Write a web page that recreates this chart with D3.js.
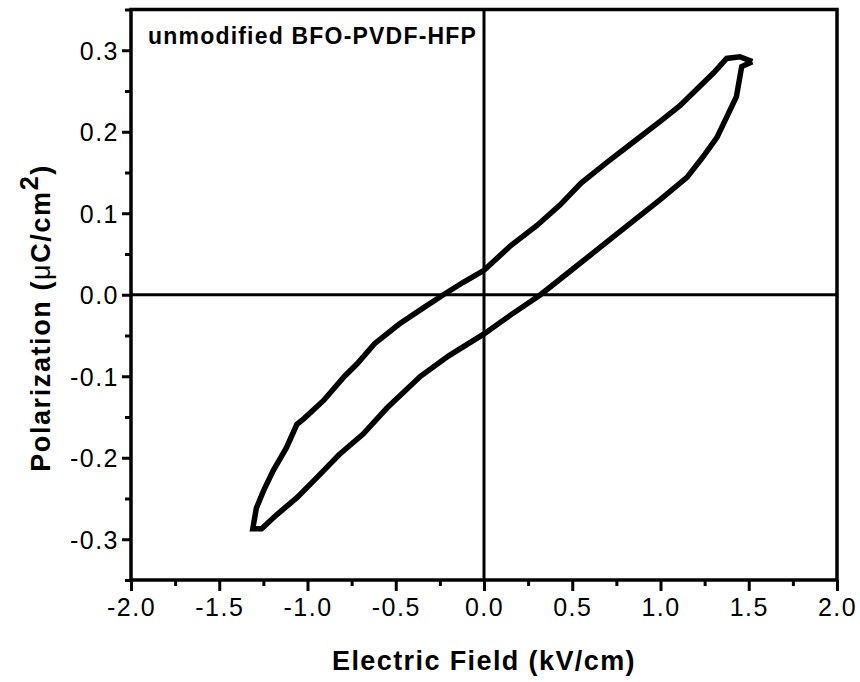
<!DOCTYPE html>
<html>
<head>
<meta charset="utf-8">
<script src="https://cdn.jsdelivr.net/npm/d3@7"></script>
<style>
  body { margin: 0; background: #fff; }
  text { font-family: "Liberation Sans", Arial, sans-serif; fill: #000; }
</style>
</head>
<body>
<div id="chart"></div>
<script>
// P-E loop, descending branch (from +Emax back to -Emax)
const upperE = [1.52, 1.45, 1.375, 1.30, 1.21, 1.11, 1.0, 0.85, 0.70, 0.55, 0.43, 0.30, 0.15, 0.0, -0.12, -0.23, -0.35, -0.48, -0.62, -0.72, -0.79, -0.91, -1.02, -1.06, -1.12, -1.195, -1.25, -1.29, -1.31];
const upperP = [0.286, 0.292, 0.290, 0.272, 0.253, 0.232, 0.213, 0.188, 0.163, 0.137, 0.110, 0.085, 0.060, 0.030, 0.015, 0.0, -0.017, -0.036, -0.060, -0.085, -0.100, -0.130, -0.152, -0.159, -0.188, -0.216, -0.241, -0.262, -0.287];
// ascending branch (from -Emax to +Emax)
const lowerE = [-1.31, -1.26, -1.175, -1.06, -0.95, -0.82, -0.685, -0.55, -0.36, -0.20, 0.0, 0.15, 0.32, 0.50, 0.75, 1.0, 1.15, 1.24, 1.32, 1.375, 1.43, 1.46, 1.52];
const lowerP = [-0.287, -0.287, -0.270, -0.249, -0.225, -0.196, -0.171, -0.139, -0.100, -0.075, -0.048, -0.025, 0.0, 0.031, 0.074, 0.117, 0.144, 0.169, 0.193, 0.218, 0.243, 0.280, 0.286];

const xTicks = [-2.0, -1.5, -1.0, -0.5, 0.0, 0.5, 1.0, 1.5, 2.0];
const xMinor = [-1.75, -1.25, -0.75, -0.25, 0.25, 0.75, 1.25, 1.75];
const yTicks = [-0.3, -0.2, -0.1, 0.0, 0.1, 0.2, 0.3];
const yMinor = [-0.35, -0.25, -0.15, -0.05, 0.05, 0.15, 0.25, 0.35];

const width = 860;
const height = 682;
const margin = { top: 9.5, right: 23, bottom: 102, left: 131 };

// plain hyphen for negatives, like the original
const fmt = (d) => d3.format('.1f')(d).replace('\u2212', '-');

const svg = d3.select('#chart')
  .append('svg')
  .attr('width', width)
  .attr('height', height);

const x = d3.scaleLinear()
  .domain([-2, 2])
  .range([margin.left, width - margin.right]);

const y = d3.scaleLinear()
  .domain([-0.35, 0.35])
  .range([height - margin.bottom, margin.top]);

// Bottom axis with major + minor ticks
const xAxis = svg.append('g')
  .attr('transform', `translate(0,${y(-0.35)})`)
  .call(d3.axisBottom(x).tickValues(xTicks).tickSize(11).tickFormat(fmt));
svg.append('g')
  .attr('transform', `translate(0,${y(-0.35)})`)
  .call(d3.axisBottom(x).tickValues(xMinor).tickSize(6).tickFormat(''));

const yAxis = svg.append('g')
  .attr('transform', `translate(${x(-2)},0)`)
  .call(d3.axisLeft(y).tickValues(yTicks).tickSize(9).tickFormat(fmt));
svg.append('g')
  .attr('transform', `translate(${x(-2)},0)`)
  .call(d3.axisLeft(y).tickValues(yMinor).tickSize(6).tickFormat(''));

svg.selectAll('.domain').remove();
svg.selectAll('.tick line').attr('stroke', '#000').attr('stroke-width', 3);
svg.selectAll('.tick text')
  .style('font-size', '25px')
  .style('letter-spacing', '1.5px');
xAxis.selectAll('.tick text').attr('dy', '0.95em').attr('y', 12);
yAxis.selectAll('.tick text').attr('x', -12).attr('dy', '0.36em');

// Frame
svg.append('rect')
  .attr('x', x(-2))
  .attr('y', y(0.35))
  .attr('width', x(2) - x(-2))
  .attr('height', y(-0.35) - y(0.35))
  .attr('fill', 'none')
  .attr('stroke', '#000')
  .attr('stroke-width', 3.5);

// Zero lines
svg.append('line')
  .attr('x1', x(-2)).attr('x2', x(2))
  .attr('y1', y(0)).attr('y2', y(0))
  .attr('stroke', '#000').attr('stroke-width', 3);
svg.append('line')
  .attr('x1', x(0)).attr('x2', x(0))
  .attr('y1', y(0.35)).attr('y2', y(-0.35))
  .attr('stroke', '#000').attr('stroke-width', 3);

// Loop
const loop = upperE.map((e, i) => [e, upperP[i]])
  .concat(lowerE.map((e, i) => [e, lowerP[i]]));

const line = d3.line()
  .x((d) => x(d[0]))
  .y((d) => y(d[1]));

svg.append('path')
  .datum(loop)
  .attr('d', line)
  .attr('fill', 'none')
  .attr('stroke', '#000')
  .attr('stroke-width', 5.5)
  .attr('stroke-linejoin', 'miter');

// Annotation
svg.append('text')
  .attr('x', 148)
  .attr('y', 44)
  .style('font-size', '23px')
  .style('font-weight', 'bold')
  .style('letter-spacing', '1.2px')
  .text('unmodified BFO-PVDF-HFP');

// Axis titles
svg.append('text')
  .attr('x', x(0))
  .attr('y', 670)
  .attr('text-anchor', 'middle')
  .style('font-size', '27px')
  .style('font-weight', 'bold')
  .style('letter-spacing', '1.4px')
  .text('Electric Field (kV/cm)');

const yTitle = svg.append('text')
  .attr('transform', 'translate(50,318) rotate(-90)')
  .attr('text-anchor', 'middle')
  .style('font-size', '27px')
  .style('font-weight', 'bold')
  .style('letter-spacing', '1.6px');
yTitle.append('tspan').text('Polarization (');
yTitle.append('tspan').style('font-weight', 'normal').text('\u03bc');
yTitle.append('tspan').text('C/cm');
yTitle.append('tspan').attr('dy', -12).style('font-size', '25px').text('2');
yTitle.append('tspan').attr('dy', 12).text(')');
</script>
</body>
</html>
